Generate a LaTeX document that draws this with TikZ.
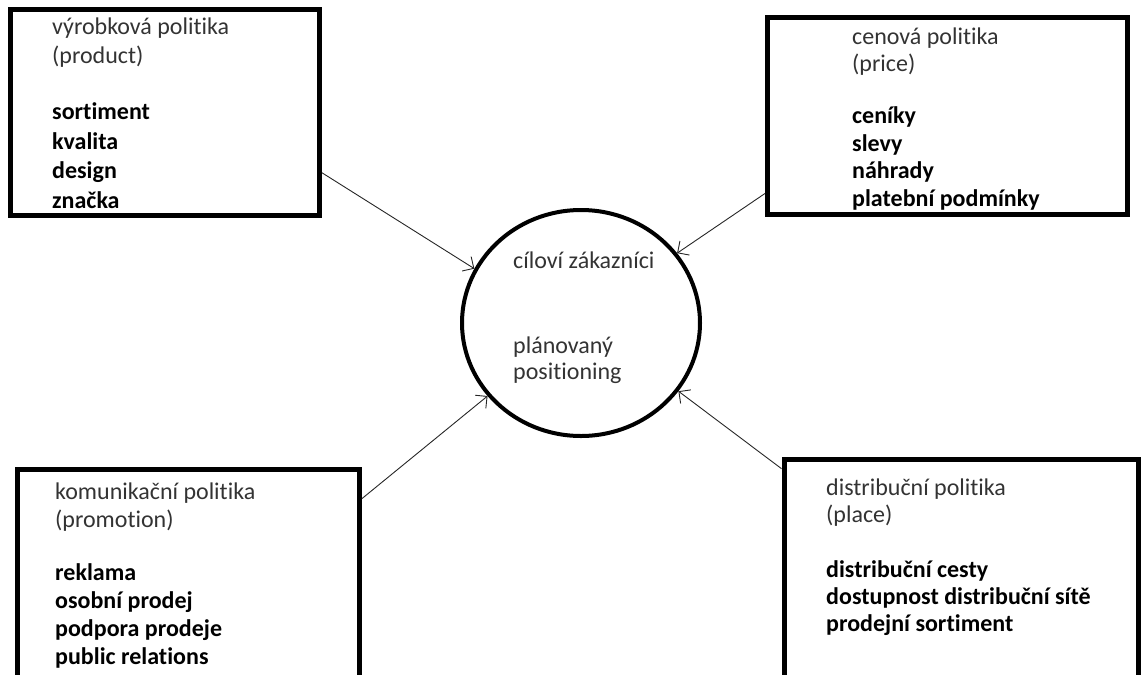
\documentclass[tikz,border=0pt]{standalone}
\usepackage{fontspec}
\setmainfont{Carlito}[Ligatures={NoCommon}]
\usetikzlibrary{arrows.meta,shapes.geometric}
\begin{document}
\begin{tikzpicture}[x=1pt,y=-1pt,
  box/.style={draw, line width=5pt, inner sep=0pt, rectangle},
  txt/.style={anchor=north west, inner sep=0pt, align=left, text=black!80},
  conn/.style={line width=0.9pt, draw=black!85, -{Straight Barb[angle=90:12pt]}},
]
\useasboundingbox (0,0) rectangle (1144,675);
\clip (0,0) rectangle (1144,675);

% boxes
\node[box, minimum width=309pt, minimum height=206pt] (b1) at (165,112.5) {};
\node[box, minimum width=360pt, minimum height=197pt] (b2) at (947.5,116) {};
\node[box, minimum width=342pt, minimum height=250.5pt] (b3) at (188.5,594.75) {};
\node[box, minimum width=354pt, minimum height=260.5pt] (b4) at (961,589.75) {};

% centre ellipse
\node[ellipse, draw, line width=4pt, inner sep=0pt, minimum width=238pt, minimum height=226pt] (circ) at (581,323) {};

% box texts
\node[txt, font=\fontsize{24}{29.5}\selectfont] (t1) at (52,14) {\rule{0pt}{20pt}výrobková politika\\(product)\\[26.5pt]%
  \textbf{\textcolor{black}{sortiment}}\\\textbf{\textcolor{black}{kvalita}}\\\textbf{\textcolor{black}{design}}\\\textbf{\textcolor{black}{značka}}};
\node[txt, font=\fontsize{24}{27.5}\selectfont] (t2) at (852,24) {\rule{0pt}{20pt}cenová politika\\(price)\\[24.5pt]%
  \textbf{\textcolor{black}{ceníky}}\\\textbf{\textcolor{black}{slevy}}\\\textbf{\textcolor{black}{náhrady}}\\\textbf{\textcolor{black}{platební podmínky}}};
\node[txt, font=\fontsize{24}{28}\selectfont] (t3) at (55,479) {\rule{0pt}{20pt}komunikační politika\\(promotion)\\[25pt]%
  \textbf{\textcolor{black}{reklama}}\\\textbf{\textcolor{black}{osobní prodej}}\\\textbf{\textcolor{black}{podpora prodeje}}\\\textbf{\textcolor{black}{public relations}}};
\node[txt, font=\fontsize{24}{27}\selectfont] (t4) at (826,475) {\rule{0pt}{20pt}distribuční politika\\(place)\\[28pt]%
  \textbf{\textcolor{black}{distribuční cesty}}\\\textbf{\textcolor{black}{dostupnost distribuční sítě}}\\\textbf{\textcolor{black}{prodejní sortiment}}};

% circle texts
\node[txt, font=\fontsize{24}{26}\selectfont] (c1) at (513,248) {\rule{0pt}{20pt}cíloví zákazníci};
\node[txt, font=\fontsize{24}{26}\selectfont] (c2) at (513,333) {\rule{0pt}{20pt}plánovaný\\positioning};

% connectors
\draw[conn] (b1.339.6) -- (circ.153);
\draw[conn] (b2.203.2) -- (circ.36.5);
\draw[conn] (b3.29.5) -- (circ.218.6);
\draw[conn] (b4.146.3) -- (circ.325.7);
\end{tikzpicture}
\end{document}
